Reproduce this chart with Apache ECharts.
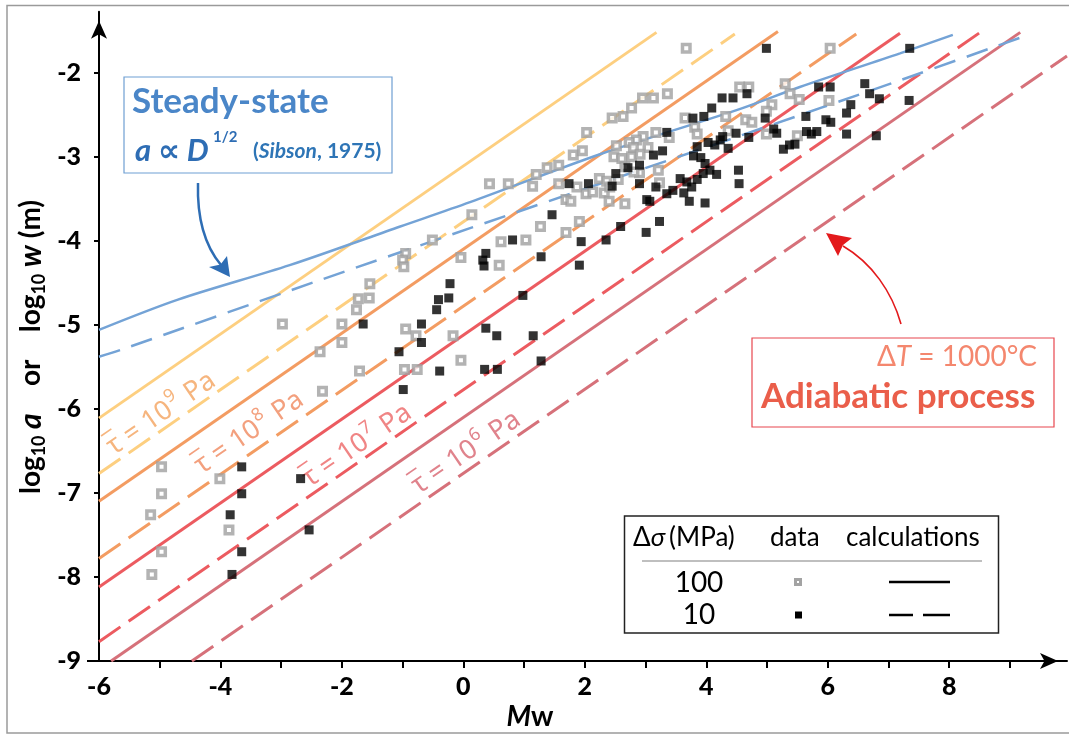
<!DOCTYPE html>
<html><head><meta charset="utf-8">
<script src="https://cdn.jsdelivr.net/npm/echarts@6/dist/echarts.min.js"></script>
<style>html,body{margin:0;padding:0;background:#fff}#c{width:1069px;height:734px}</style>
</head><body><div id="c"></div>
<script>
// ---- data: 100 MPa (gray hollow squares) ----
const data100MPa = [
[-4.97,-6.69],[-4.97,-7.01],[-5.15,-7.26],[-4.97,-7.70],[-5.13,-7.97],[-4.01,-6.83],[-3.86,-7.44],
[-2.98,-4.99],[-2.00,-4.99],[-2.00,-5.21],[-2.36,-5.32],[-1.71,-5.55],[-2.32,-5.79],[-1.76,-4.82],[-1.73,-4.69],[-1.55,-4.68],[-1.54,-4.51],
[-0.95,-4.15],[-1.00,-4.23],[-0.98,-4.31],[-0.51,-3.99],[-0.04,-4.20],[-0.95,-5.05],[-0.78,-5.13],[-0.17,-5.13],[-0.04,-5.42],[-0.97,-5.53],[-0.76,-5.53],
[0.14,-3.69],[0.43,-3.32],[0.74,-3.32],[1.14,-3.35],[1.20,-3.21],[1.38,-3.13],[1.57,-3.10],[1.81,-2.98],[1.96,-2.93],[2.03,-2.71],[2.45,-2.54],
[1.57,-3.32],[1.87,-3.36],[1.69,-3.51],[1.77,-3.53],[2.02,-3.44],[2.13,-3.42],[2.24,-3.26],[2.36,-3.29],[2.32,-3.43],[2.40,-3.53],[2.52,-2.87],[2.48,-3.00],
[1.27,-3.83],[1.69,-3.90],[1.91,-3.77],[0.62,-4.01],[1.03,-3.99],[0.59,-4.29],
[3.67,-1.71],[2.63,-2.52],[2.77,-2.42],[2.95,-2.30],[3.13,-2.30],[3.36,-2.25],[4.55,-2.17],[4.70,-2.17],[3.65,-2.54],[3.81,-2.65],[3.85,-2.73],[4.32,-2.52],[4.65,-2.56],[4.75,-2.59],
[3.17,-2.71],[3.39,-2.77],[2.96,-2.76],[2.85,-2.80],[2.73,-2.83],[3.04,-2.89],[2.80,-2.89],[2.61,-3.02],[2.77,-3.00],[2.91,-2.97],[3.21,-3.16],[2.90,-3.19],[2.81,-3.18],[2.66,-3.12],[2.55,-3.27],[2.41,-3.36],[2.66,-3.56],[3.23,-3.31],[4.36,-2.69],
[6.04,-1.71],[5.30,-2.13],[5.38,-2.25],[5.53,-2.32],[5.08,-2.38],[4.99,-2.46],[6.02,-2.33],[4.99,-2.73],[5.50,-2.75]
];
// ---- data: 10 MPa (black squares) ----
const data10MPa = [
[-3.65,-6.69],[-3.65,-7.01],[-3.84,-7.26],[-3.65,-7.70],[-3.81,-7.97],[-2.68,-6.83],[-2.54,-7.44],
[-1.65,-4.99],[-1.06,-5.32],[-0.22,-4.51],[-0.41,-4.70],[-0.24,-4.68],[-0.44,-4.82],[-0.69,-4.99],[-0.69,-5.21],[-0.39,-5.55],[-0.99,-5.77],
[1.74,-3.32],[2.06,-3.32],[2.51,-3.20],[2.45,-3.35],[1.46,-3.69],[0.81,-3.99],[0.37,-4.15],[0.32,-4.23],[0.34,-4.30],[1.28,-4.19],[1.94,-4.01],[2.35,-3.99],[1.91,-4.29],[0.98,-4.65],[0.37,-5.04],[0.55,-5.13],[1.15,-5.13],[1.28,-5.43],[0.35,-5.53],[0.56,-5.53],[2.59,-3.83],
[4.99,-1.71],[4.67,-2.25],[4.26,-2.30],[4.44,-2.30],[4.09,-2.42],[3.96,-2.52],[3.78,-2.54],[3.35,-2.71],[3.28,-2.93],[3.13,-2.98],[3.85,-2.88],[3.79,-2.99],[3.91,-3.01],[4.03,-2.83],[4.14,-2.86],[4.23,-2.80],[4.27,-2.76],[4.36,-2.90],[4.49,-2.72],[4.70,-2.77],
[2.71,-3.13],[2.90,-3.10],[2.90,-3.32],[3.17,-3.36],[3.98,-3.08],[4.06,-3.16],[3.95,-3.20],[4.17,-3.21],[3.57,-3.26],[3.85,-3.27],[3.68,-3.30],[3.76,-3.36],[4.53,-3.16],[4.54,-3.32],[3.35,-3.44],[3.45,-3.40],[3.63,-3.43],[3.02,-3.51],[3.07,-3.53],[3.72,-3.53],[3.98,-3.55],[3.23,-3.77],[3.01,-3.90],
[5.85,-2.17],[6.04,-2.17],[6.61,-2.13],[6.69,-2.25],[6.85,-2.31],[6.38,-2.38],[6.31,-2.48],[4.97,-2.54],[5.64,-2.52],[5.97,-2.56],[6.05,-2.59],[5.11,-2.67],[5.16,-2.72],[5.65,-2.70],[5.73,-2.73],[5.82,-2.70],[6.31,-2.73],[6.80,-2.75],[5.27,-2.91],[5.37,-2.86],[5.46,-2.85],[7.35,-1.71],[7.34,-2.33]
];
// ---- adiabatic calculations (endpoints) ----
const tau9_100 = [[-6,-6.11],[3.18,-1.52]];
const tau9_10  = [[-6,-6.77],[4.47,-1.54]];
const tau8_100 = [[-6,-7.10],[5.18,-1.51]];
const tau8_10  = [[-6,-7.78],[6.47,-1.54]];
const tau7_100 = [[-6,-8.12],[7.19,-1.53]];
const tau7_10  = [[-6,-8.77],[8.51,-1.52]];
const tau6_100 = [[-5.80,-9.00],[9.17,-1.52]];
const tau6_10  = [[-4.47,-9.00],[9.94,-1.80]];
// ---- steady-state curves ----
const steady_100 = [[-6,-5.06],[-4.7,-4.70],[-2.86,-4.29],[-1.04,-3.83],[0.11,-3.54],[2.25,-2.97],[4.56,-2.43],[5.54,-2.17],[7.19,-1.77],[8.06,-1.55]];
const steady_10  = [[-6,-5.38],[-5.65,-5.30],[-2.45,-4.49],[0.11,-3.85],[2.41,-3.28],[4.6,-2.74],[7.19,-2.09],[9.3,-1.55]];
// ---- ticks ----
const xTickValues = [-5,-4,-3,-2,-1,0,1,2,3,4,5,6,7,8,9];
const xLabelValues = [-6,-4,-2,0,2,4,6,8];
const yTickValues = [-9,-8,-7,-6,-5,-4,-3,-2];
// ---- tau label exponents ----
const tauExponents = ['9','8','7','6'];

const F = "Lato, 'DejaVu Sans', sans-serif";
const FN = "'Noto Sans', 'DejaVu Sans', sans-serif";
const C = {yel:'#fdcf80', ora:'#f39c62', red:'#ec5b60', rose:'#d6717a', blue:'#74a3d6'};
const DASH = [26,10];

function calcLine(data, color, dashed){
  return {type:'line', data:data, showSymbol:false, symbol:'none', silent:true, z:2,
    lineStyle:{color:color, width:3, type: dashed?DASH:'solid', cap:'butt'}};
}
function tauLabel(exp, x, y, color){
  return {type:'group', x:x, y:y, rotation:0.602, z:5, children:[
    {type:'text', x:0, y:0, style:{text:'{n|\u03C4 = 10}{s|' + exp + '}{n| Pa}', align:'left', verticalAlign:'middle',
      rich:{n:{fontSize:27, fontFamily:FN, fill:color, lineHeight:32, verticalAlign:'bottom'},
            s:{fontSize:18, fontFamily:FN, fill:color, lineHeight:32, verticalAlign:'top', padding:[0,2,0,1]}}}},
    {type:'line', shape:{x1:0.5, y1:-13, x2:13, y2:-13}, style:{stroke:color, lineWidth:1.6}}
  ]};
}

const chart = echarts.init(document.getElementById('c'), null, {renderer:'canvas'});
const option = {
  backgroundColor:'#fff',
  animation:false,
  grid:{left:99, right:2, top:11.7, bottom:73, containLabel:false},
  xAxis:{type:'value', min:-6, max:9.94,
    axisLine:{show:true, onZero:false, lineStyle:{color:'#000', width:2}, symbol:['none','arrow'], symbolSize:[12,18], symbolOffset:[0,-9]},
    axisTick:{show:true, customValues:xTickValues, length:7, lineStyle:{color:'#000', width:2}},
    axisLabel:{customValues:xLabelValues, color:'#000', fontSize:25, fontWeight:900, fontFamily:F, margin:13},
    splitLine:{show:false}},
  yAxis:{type:'value', min:-9, max:-1.274,
    axisLine:{show:true, onZero:false, lineStyle:{color:'#000', width:2}, symbol:['none','arrow'], symbolSize:[12,18], symbolOffset:[0,-9]},
    axisTick:{show:true, customValues:yTickValues, length:5, lineStyle:{color:'#000', width:2}},
    axisLabel:{customValues:yTickValues, color:'#000', fontSize:25, fontWeight:900, fontFamily:F, margin:18},
    splitLine:{show:false}},
  series:[
    calcLine(tau9_100, C.yel, false), calcLine(tau9_10, C.yel, true),
    calcLine(tau8_100, C.ora, false), calcLine(tau8_10, C.ora, true),
    calcLine(tau7_100, C.red, false), calcLine(tau7_10, C.red, true),
    calcLine(tau6_100, C.rose, false), calcLine(tau6_10, C.rose, true),
    {type:'line', data:steady_100, smooth:0.3, showSymbol:false, symbol:'none', silent:true, z:2, lineStyle:{color:C.blue, width:2.5}},
    {type:'line', data:steady_10, smooth:0.3, showSymbol:false, symbol:'none', silent:true, z:2, lineStyle:{color:C.blue, width:2.5, type:[22,12]}},
    {type:'scatter', data:data100MPa, symbol:'rect', symbolSize:7.5, silent:true, z:3,
      itemStyle:{color:'#fff', borderColor:'#a0a0a0', borderWidth:3.5}},
    {type:'scatter', data:data10MPa, symbol:'rect', symbolSize:9, silent:true, z:4,
      itemStyle:{color:'#000'}}
  ],
  graphic:[
    // outer frame
    {type:'rect', shape:{x:7, y:5.5, width:1070, height:727.5}, style:{fill:'none', stroke:'#9a9a9a', lineWidth:1.5}, silent:true},
    {type:'line', shape:{x1:87, y1:661, x2:99, y2:661}, style:{stroke:'#000', lineWidth:2}},
    // y axis title
    {type:'text', x:31, y:347, rotation:Math.PI/2, style:{
      text:'{b|log}{s|10}{bi| a}{b|    or    }{b|log}{s|10}{bi| w}{b| (m)}',
      align:'center', verticalAlign:'middle',
      rich:{
        b:{fontSize:28, fontWeight:'bold', fontFamily:F, fill:'#000', lineHeight:34},
        bi:{fontSize:30, fontWeight:'bold', fontStyle:'italic', fontFamily:F, fill:'#000', lineHeight:34},
        s:{fontSize:18, fontWeight:'bold', fontFamily:F, fill:'#000', lineHeight:18, verticalAlign:'bottom'}
      }}},
    // x axis title
    {type:'text', x:530, y:717, style:{text:'{i|M}{n|w}', align:'center', verticalAlign:'middle',
      rich:{i:{fontSize:28, fontWeight:'bold', fontStyle:'italic', fontFamily:F, fill:'#000'},
            n:{fontSize:28, fontWeight:'bold', fontFamily:F, fill:'#000'}}}},
    // steady-state box
    {type:'rect', shape:{x:124, y:77, width:268, height:96}, style:{fill:'#fff', stroke:'#6f9fd3', lineWidth:1.2}, z:10},
    {type:'text', x:132, y:102, z:11, style:{text:'Steady-state', fontSize:35, fontWeight:'bold', fontFamily:F, fill:'#4a86c8', align:'left', verticalAlign:'middle'}},
    {type:'text', x:135, y:151, z:11, style:{text:'a \u221D D', fontSize:31, fontWeight:'bold', fontStyle:'italic', fontFamily:F, fill:'#2e6db4', align:'left', verticalAlign:'middle'}},
    {type:'text', x:213, y:137, z:11, style:{text:'1/2', fontSize:15, fontWeight:'bold', fontFamily:F, fill:'#2e6db4', align:'left', verticalAlign:'middle'}},
    {type:'text', x:253, y:151, z:11, style:{text:'{n|(}{i|Sibson}{n|, 1975)}', align:'left', verticalAlign:'middle',
      rich:{n:{fontSize:21, fontWeight:'bold', fontFamily:F, fill:'#2e75b6'}, i:{fontSize:21, fontWeight:'bold', fontStyle:'italic', fontFamily:F, fill:'#2e75b6'}}}},
    // blue arrow
    {type:'bezierCurve', shape:{x1:198, y1:183, cpx1:197, cpy1:218, cpx2:205, cpy2:246, x2:221, y2:265}, style:{stroke:'#2e6db4', lineWidth:2.5, fill:'none'}},
    {type:'polygon', shape:{points:[[230,277],[209,267],[220.5,264.5],[227,256]]}, style:{fill:'#2e6db4'}},
    // adiabatic box
    {type:'rect', shape:{x:752, y:338, width:302, height:89}, style:{fill:'#fff', stroke:'#e8474f', lineWidth:1.2}, z:10},
    {type:'text', x:1037, y:357, z:11, style:{text:'{n|\u0394}{i|T}{n| = 1000\u00B0C}', align:'right', verticalAlign:'middle',
      rich:{n:{fontSize:28, fontFamily:F, fill:'#f4876e'}, i:{fontSize:28, fontStyle:'italic', fontFamily:F, fill:'#f4876e'}}}},
    {type:'text', x:761, y:397, z:11, style:{text:'Adiabatic process', fontSize:35, fontWeight:'bold', fontFamily:F, fill:'#ea5e4a', align:'left', verticalAlign:'middle'}},
    // red arrow
    {type:'bezierCurve', shape:{x1:901, y1:324, cpx1:892, cpy1:292, cpx2:872, cpy2:263, x2:843, y2:246}, style:{stroke:'#e31a1c', lineWidth:1.6, fill:'none'}},
    {type:'polygon', shape:{points:[[826,233],[852,238],[843,245],[838,256]]}, style:{fill:'#e31a1c'}},
    // tau labels
    tauLabel(tauExponents[0], 108, 447, '#f6b57e'),
    tauLabel(tauExponents[1], 196, 466, '#f3a07e'),
    tauLabel(tauExponents[2], 304, 479, '#f08585'),
    tauLabel(tauExponents[3], 413, 486, '#e0838c'),
    // legend table
    {type:'rect', shape:{x:624.5, y:516, width:374, height:117}, style:{fill:'#fff', stroke:'#222', lineWidth:1.5}, z:10},
    {type:'text', x:633, y:538, z:11, style:{text:'{n|\u0394}{i|\u03C3}{n|(MPa)}', align:'left', verticalAlign:'middle',
      rich:{n:{fontSize:26, fontFamily:F, fill:'#000'}, i:{fontSize:26, fontStyle:'italic', fontFamily:F, fill:'#000', padding:[0,4,0,0]}}}},
    {type:'text', x:770, y:538, z:11, style:{text:'data', fontSize:26, fontFamily:F, fill:'#000', align:'left', verticalAlign:'middle'}},
    {type:'text', x:846, y:538, z:11, style:{text:'calculations', fontSize:26, fontFamily:F, fill:'#000', align:'left', verticalAlign:'middle'}},
    {type:'line', z:11, shape:{x1:642, y1:561, x2:982, y2:561}, style:{stroke:'#aaa', lineWidth:1.5}},
    {type:'text', x:699, y:583, z:11, style:{text:'100', fontSize:28, fontFamily:F, fill:'#000', align:'center', verticalAlign:'middle'}},
    {type:'text', x:699, y:615, z:11, style:{text:'10', fontSize:28, fontFamily:F, fill:'#000', align:'center', verticalAlign:'middle'}},
    {type:'rect', z:11, shape:{x:795.5, y:579.5, width:5, height:5}, style:{fill:'#fff', stroke:'#a3a3a3', lineWidth:3}},
    {type:'rect', z:11, shape:{x:795, y:611.5, width:7, height:7}, style:{fill:'#000'}},
    {type:'line', z:11, shape:{x1:889, y1:582, x2:950, y2:582}, style:{stroke:'#000', lineWidth:2.5}},
    {type:'line', z:11, shape:{x1:889, y1:615, x2:913, y2:615}, style:{stroke:'#000', lineWidth:2.5}},
    {type:'line', z:11, shape:{x1:923, y1:615, x2:950, y2:615}, style:{stroke:'#000', lineWidth:2.5}}
  ]
};
chart.setOption(option);
</script></body></html>
